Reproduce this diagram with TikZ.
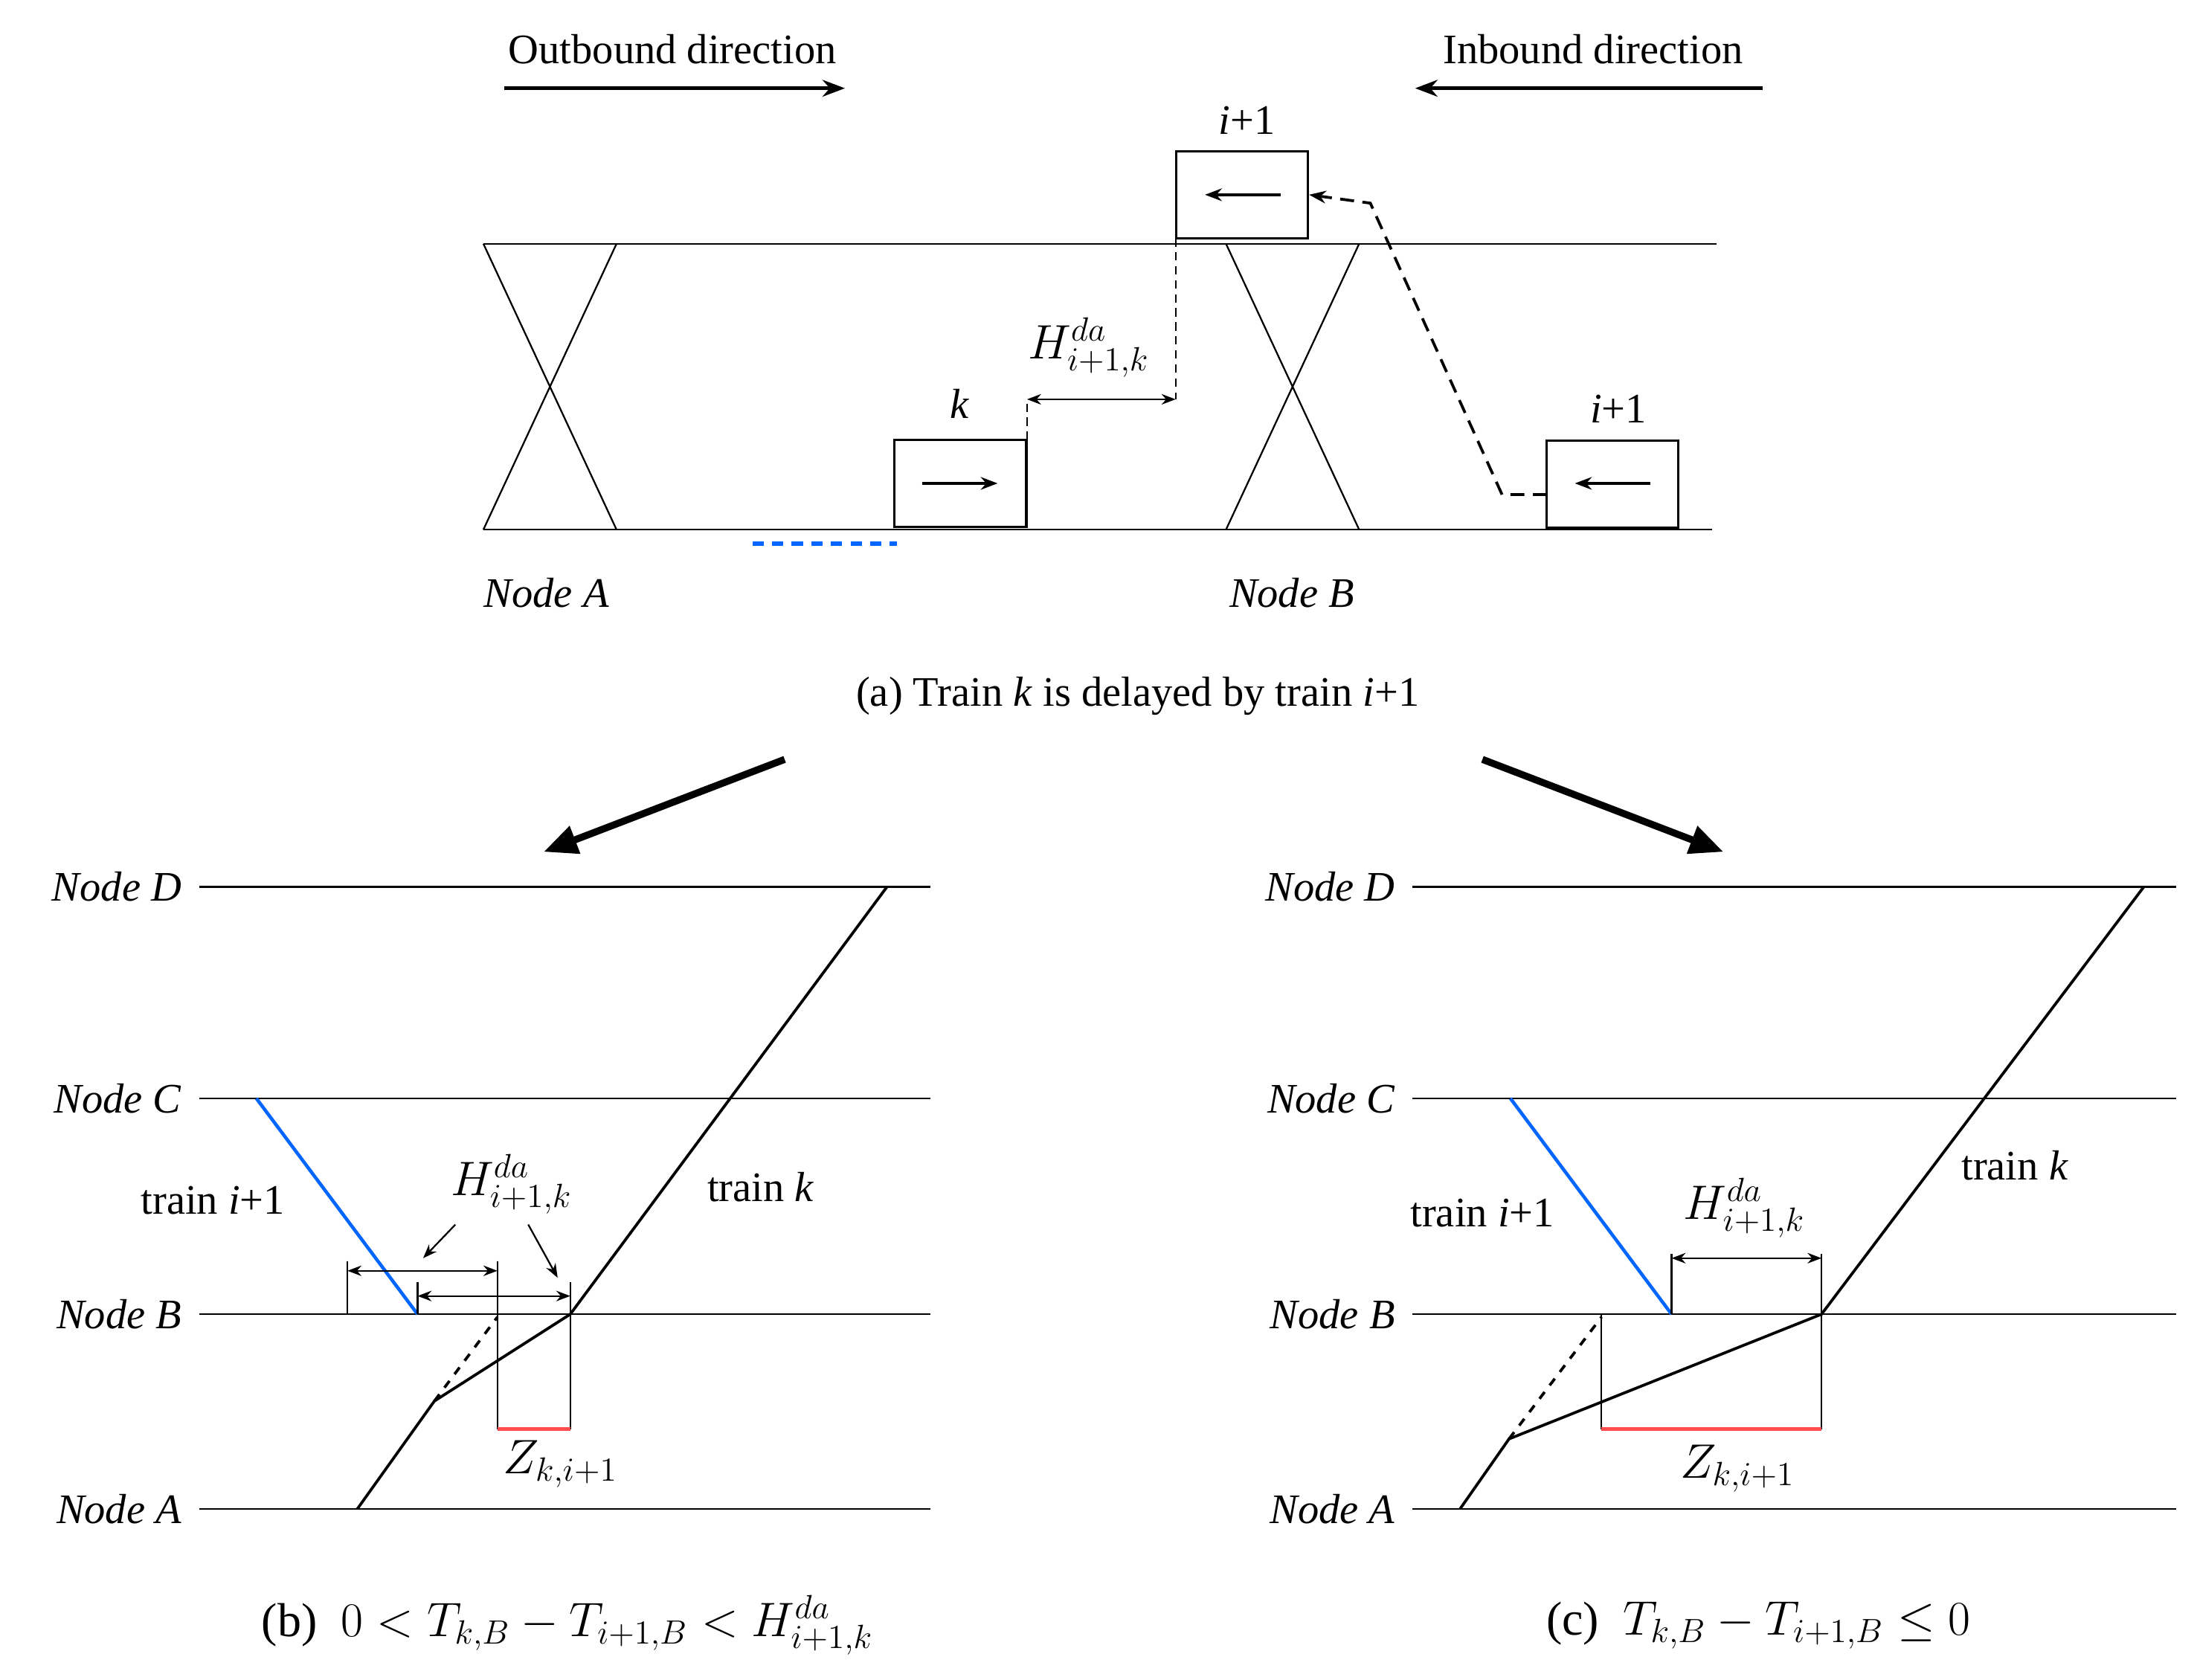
\documentclass[tikz,border=0pt]{standalone}
\usepackage{fontspec}
\setmainfont{Liberation Serif}
\usetikzlibrary{arrows.meta}
\begin{document}
\begin{tikzpicture}[x=0.5pt,y=-0.5pt,
 every node/.style={font=\fontsize{15}{17}\selectfont,inner sep=1pt},
 ln/.style={line width=0.6pt},
 blk/.style={draw,line width=0.8pt},
 har/.style={{Stealth[length=5pt]}-{Stealth[length=5pt]},line width=0.6pt},
 big/.style={-{Triangle[length=12pt,width=10pt]},line width=2.5pt},
 blue/.style={draw=blue!60!cyan,line width=1.2pt},
 red/.style={draw=red!70,line width=1.2pt}]
\useasboundingbox (0,0) rectangle (1568,1199);
% ---------- panel a
\node (ob) at (480,35) {Outbound direction};
\coordinate (ob1) at (360,63); \coordinate (ob2) at (603,63);
\draw[-{Stealth[length=8pt]},line width=1.2pt] (ob1) -- (ob2);
\node (ib) at (1137,35) {Inbound direction};
\coordinate (ib1) at (1258,63); \coordinate (ib2) at (1010,63);
\draw[-{Stealth[length=8pt]},line width=1.2pt] (ib1) -- (ib2);
\draw[ln] (345,174) -- (1225,174);
\draw[ln] (345,378) -- (1222,378);
\draw[ln] (345,174) -- (440,378) (440,174) -- (345,378);
\draw[ln] (875,174) -- (970,378) (970,174) -- (875,378);
\node[blk,minimum width=47pt,minimum height=31pt] (bk) at (685.5,345) {};
\draw[-{Stealth[length=6pt]},line width=1pt] (658,345) -- (712,345);
\node (lk) at (685,288) {\textit{k}};
\node[blk,minimum width=47pt,minimum height=31pt] (bi) at (886.5,139) {};
\draw[-{Stealth[length=6pt]},line width=1pt] (914,139) -- (860,139);
\node (li) at (890,86) {\textit{i}+1};
\node[blk,minimum width=47pt,minimum height=31pt] (bj) at (1151,345.5) {};
\draw[-{Stealth[length=6pt]},line width=1pt] (1178,345) -- (1124,345);
\node (lj) at (1155,292) {\textit{i}+1};
\draw[dash pattern=on 5pt off 3pt,line width=1pt,-{Stealth[length=6pt]}] (1104,353) -- (1072,353) -- (978,145) -- (bi.east);
\draw[densely dashed,ln] (733,314) -- (733,285);
\draw[densely dashed,ln] (839,170) -- (839,285);
\coordinate (h1) at (733,285); \coordinate (h2) at (839,285);
\draw[har] (h1) -- (h2);
\node[font=\fontsize{17}{19}\selectfont] (ha) at (777,248) {$H^{da}_{i+1,k}$};
\draw[blue,dash pattern=on 4pt off 3pt,line width=1.5pt] (537,388) -- (640,388);
\node (na) at (390,423) {\textit{Node A}};
\node (nb) at (922,423) {\textit{Node B}};
\node (ca) at (812,497) {(a) Train \textit{k} is delayed by train \textit{i}+1};
\coordinate (a1) at (560,542); \coordinate (a2) at (388,608);
\draw[big] (a1) -- (a2);
\coordinate (a3) at (1058,542); \coordinate (a4) at (1230,608);
\draw[big] (a3) -- (a4);
% ---------- panel b
\foreach \y/\n in {633/D,784/C,938/B,1077/A}{
 \draw[ln] (142,\y) -- (664,\y);
 \node[anchor=east] at (132,\y) {\textit{Node \n}};}
\draw[line width=1pt] (255,1077) -- (310,1000) -- (407,938) -- (633,633);
\draw[dashed,line width=1pt] (310,1000) -- (355,940);
\draw[blue] (183,784) -- (298,938);
\draw[ln] (248,900) -- (248,938);
\draw[ln] (298,915) -- (298,938);
\draw[ln] (355,900) -- (355,1020);
\draw[ln] (407,915) -- (407,1020);
\draw[red] (355,1020) -- (407,1020);
\draw[har] (248,907) -- (355,907);
\draw[har] (298,925) -- (407,925);
\node[font=\fontsize{17}{19}\selectfont] (hb) at (365,845) {$H^{da}_{i+1,k}$};
\draw[-{Stealth[length=5pt]},ln] (325,874) -- (302,898);
\draw[-{Stealth[length=5pt]},ln] (377,874) -- (398,912);
\node[font=\fontsize{17}{19}\selectfont] (zb) at (400,1045) {$Z_{k,i+1}$};
\node (tib) at (152,857) {train \textit{i}+1};
\node (tkb) at (543,847) {train \textit{k}};
\node[font=\fontsize{17}{19}\selectfont] (cb) at (405,1160) {(b)\ \ $0 < T_{k,B} - T_{i+1,B} < H^{da}_{i+1,k}$};
% ---------- panel c
\foreach \y/\n in {633/D,784/C,938/B,1077/A}{
 \draw[ln] (1008,\y) -- (1553,\y);
 \node[anchor=east] at (998,\y) {\textit{Node \n}};}
\draw[line width=1pt] (1042,1077) -- (1077,1027) -- (1300,938) -- (1530,633);
\draw[dashed,line width=1pt] (1077,1027) -- (1143,940);
\draw[blue] (1078,784) -- (1193,938);
\draw[ln] (1193,895) -- (1193,938);
\draw[ln] (1300,895) -- (1300,1020);
\draw[ln] (1143,938) -- (1143,1020);
\draw[red] (1143,1020) -- (1300,1020);
\draw[har] (1193,898) -- (1300,898);
\node[font=\fontsize{17}{19}\selectfont] (hc) at (1245,862) {$H^{da}_{i+1,k}$};
\node[font=\fontsize{17}{19}\selectfont] (zc) at (1240,1048) {$Z_{k,i+1}$};
\node (tic) at (1058,866) {train \textit{i}+1};
\node (tkc) at (1438,832) {train \textit{k}};
\node[font=\fontsize{17}{19}\selectfont] (cc) at (1255,1160) {(c)\ \ $T_{k,B} - T_{i+1,B} \leq 0$};
\end{tikzpicture}
\end{document}
